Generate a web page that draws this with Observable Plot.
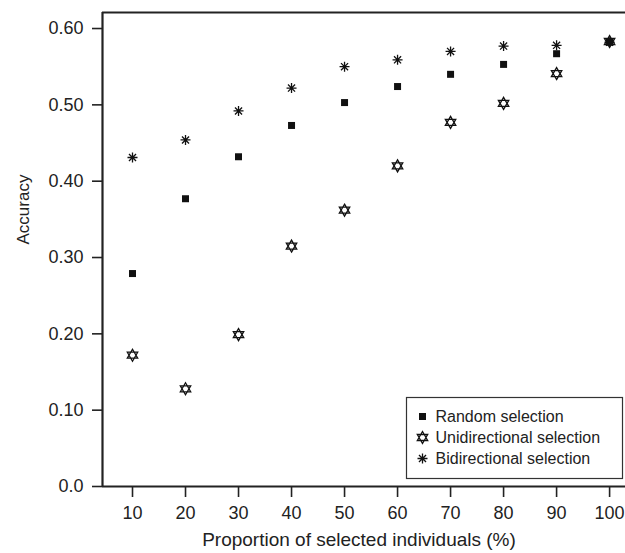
<!DOCTYPE html>
<html><head><meta charset="utf-8">
<script src="https://cdn.jsdelivr.net/npm/d3@7"></script>
<script src="https://cdn.jsdelivr.net/npm/@observablehq/plot@0.6"></script>
<style>
body{margin:0;background:#fff}
svg{font-family:"Liberation Sans",Arial,Helvetica,sans-serif}
</style>
</head><body><div id="chart"></div>
<script>
const proportions = [10, 20, 30, 40, 50, 60, 70, 80, 90, 100];
const randomSel = [0.279, 0.377, 0.432, 0.473, 0.503, 0.524, 0.540, 0.553, 0.567, 0.582];
const uniSel    = [0.172, 0.128, 0.199, 0.315, 0.362, 0.420, 0.477, 0.502, 0.541, 0.583];
const biSel     = [0.431, 0.454, 0.492, 0.522, 0.550, 0.559, 0.570, 0.577, 0.578, 0.582];
const seriesNames = ["Random selection", "Unidirectional selection", "Bidirectional selection"];
const yTicks = [0, 0.1, 0.2, 0.3, 0.4, 0.5, 0.6];
const yTickLabels = ["0.0", "0.10", "0.20", "0.30", "0.40", "0.50", "0.60"];
const xDomain = [4.34, 103];
const yDomain = [0, 0.621];

const squareSym = {draw(ctx, size){ const s = 3.5; ctx.rect(-s, -s, 2*s, 2*s); }};
const hexagramSym = {draw(ctx, size){
  const r = 6, a = r*Math.sqrt(3)/2, b = r/2;
  ctx.moveTo(0, -r); ctx.lineTo(a, b); ctx.lineTo(-a, b); ctx.closePath();
  ctx.moveTo(0, r); ctx.lineTo(a, -b); ctx.lineTo(-a, -b); ctx.closePath();
}};
const asteriskSym = {draw(ctx, size){
  const r = 5, d = r*Math.SQRT1_2;
  ctx.moveTo(0, -r); ctx.lineTo(0, r);
  ctx.moveTo(-r, 0); ctx.lineTo(r, 0);
  ctx.moveTo(-d, -d); ctx.lineTo(d, d);
  ctx.moveTo(-d, d); ctx.lineTo(d, -d);
}};

const rows = (vals, name) => proportions.map((p, i) => ({p, v: vals[i], name}));
const dataR = rows(randomSel, seriesNames[0]);
const dataU = rows(uniSel, seriesNames[1]);
const dataB = rows(biSel, seriesNames[2]);

const symStyles = [
  {symbol: squareSym, fill: "#111", stroke: "none"},
  {symbol: hexagramSym, fill: "white", stroke: "#111", strokeWidth: 1.3},
  {symbol: asteriskSym, fill: "none", stroke: "#111", strokeWidth: 1.3}
];

const legendRowsDy = [-70, -49, -28];

const chart = Plot.plot({
  width: 625,
  height: 553,
  marginLeft: 102,
  marginRight: 0,
  marginTop: 12,
  marginBottom: 67,
  style: {fontFamily: '"Liberation Sans", Arial, sans-serif', fontSize: "18px", color: "#222", background: "white"},
  x: {domain: xDomain},
  y: {domain: yDomain},
  marks: [
    Plot.axisX({ticks: proportions, tickSize: 11, tickPadding: 9, strokeWidth: 1.6, fontSize: 18, label: null}),
    Plot.axisY({ticks: yTicks, tickSize: 10, tickPadding: 9, strokeWidth: 1.6, fontSize: 18, label: null,
      tickFormat: d => yTickLabels[yTicks.indexOf(d)]}),
    Plot.ruleY([yDomain[0]], {stroke: "#222", strokeWidth: 2.2}),
    Plot.ruleY([yDomain[1]], {stroke: "#222", strokeWidth: 2.2}),
    Plot.ruleX([xDomain[0]], {stroke: "#222", strokeWidth: 2.2}),
    Plot.dot(dataU, {x: "p", y: "v", r: 6, ...symStyles[1]}),
    Plot.dot(dataR, {x: "p", y: "v", r: 4, ...symStyles[0]}),
    Plot.dot(dataB, {x: "p", y: "v", r: 5, ...symStyles[2]}),
    Plot.text(["Accuracy"], {frameAnchor: "left", dx: -79, dy: -5, rotate: -90, fontSize: 17, fill: "#222"}),
    Plot.text(["Proportion of selected individuals (%)"], {frameAnchor: "bottom", dx: -5, dy: 53, lineAnchor: "middle", fontSize: 19, fill: "#222"}),
    ...seriesNames.map((n, i) => Plot.dot([n], {frameAnchor: "bottom-right", dx: -203, dy: legendRowsDy[i], r: 5, ...symStyles[i]})),
    ...seriesNames.map((n, i) => Plot.text([n], {frameAnchor: "bottom-right", dx: -190, dy: legendRowsDy[i], textAnchor: "start", lineAnchor: "middle", fontSize: 16, fill: "#222"}))
  ]
});

d3.select(chart).append("rect")
  .attr("x", 406.5).attr("y", 397.5).attr("width", 216).attr("height", 81)
  .attr("fill", "none").attr("stroke", "#333").attr("stroke-width", 1.2);

document.getElementById("chart").appendChild(chart);
</script>
</body></html>
